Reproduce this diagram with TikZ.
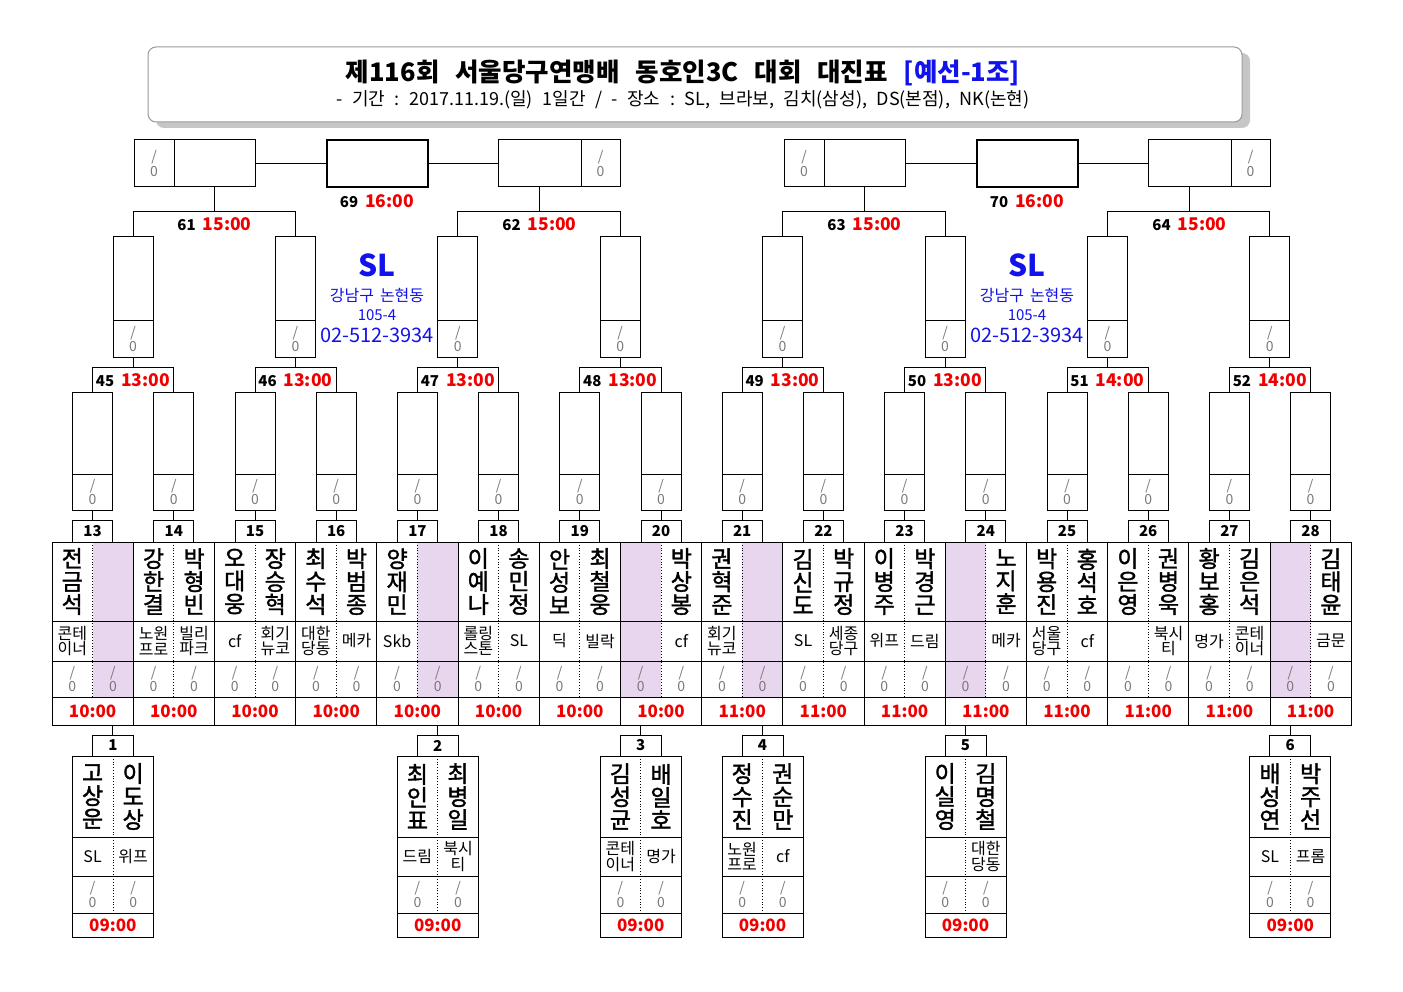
\documentclass[tikz,border=0pt]{standalone}
\usepackage{fontspec}
\setmainfont{Noto Sans CJK KR}
\newfontfamily\namefont{Noto Sans CJK KR}[FakeBold=1.5]
\usepackage{tikz}
\usetikzlibrary{calc,positioning,backgrounds}
\definecolor{emptyslot}{RGB}{232,214,238}
\definecolor{tblue}{RGB}{18,18,235}
\definecolor{sgray}{RGB}{120,120,120}
\definecolor{tred}{RGB}{240,0,0}
\tikzset{>=latex}
\newcommand{\fsize}[2]{\fontsize{#1}{#2}\selectfont}
\newcommand{\mnum}[1]{{\bfseries\fsize{15}{15}#1}}
\newcommand{\mtime}[1]{{\bfseries\fsize{17.5}{17.5}\color{tred}#1}}
\newcommand{\slashz}{/\\0}
\newcommand{\tgap}{\hspace{16pt}}
\newcommand{\sgap}{\hspace{9.5pt}}

\begin{document}
\begin{tikzpicture}[x=1pt, y=-1pt, line width=1pt,
  box/.style 2 args={draw, rectangle, inner sep=0pt, outer sep=0pt, minimum width=#1, minimum height=#2},
  score/.style={text=sgray, align=center, font=\fsize{14}{14.5}},
  numlbl/.style={font=\bfseries\fsize{15}{15}},
  pname/.style={align=center, inner sep=0pt, font=\namefont\fsize{23}{23}},
  club/.style={align=center, inner sep=0pt, font=\fsize{16}{15.5}},
  ptime/.style={text=tred, font=\bfseries\fsize{17}{17}},
  mlabel/.style={inner sep=0pt}]
\useasboundingbox (0,0) rectangle (1403,992);

\node[box={1094}{75}, draw=none, fill=gray!45, rounded corners=8pt] (tshadow) at (703,90.5) {};
\node[box={1094}{75}, draw=gray!80, fill=white, rounded corners=8pt] (tbox) at (695,84.5) {};
\node[font=\bfseries\fsize{25.5}{25.5}] (title) at (683,73)
  {제116회\tgap 서울당구연맹배\tgap 동호인3C\tgap 대회\tgap 대진표\tgap {\color{tblue}[예선-1조]}};
\node[font=\fsize{18}{18}] (period) at (683,100)
  {-\sgap 기간\sgap :\sgap 2017.11.19.(일)\sgap 1일간\sgap /\sgap -\sgap 장소\sgap :\sgap SL,\sgap 브라보,\sgap 김치(삼성),\sgap DS(본점),\sgap NK(논현)};

\foreach \s/\f in {0/69, 650/70} {
  \node[box={101}{47}, line width=2pt] (fin\f) at (377+\s,163.5) {};
  \node[box={81}{47}] (wl\f) at (214.5+\s,163.5) {};
  \node[box={40}{47}, score, left=0pt of wl\f] (wls\f) {\slashz};
  \node[box={83}{47}] (wr\f) at (539.5+\s,163.5) {};
  \node[box={39}{47}, score, right=0pt of wr\f] (wrs\f) {\slashz};
  \draw (wl\f) -- (fin\f);
  \draw (fin\f) -- (wr\f);
  \node[mlabel] (ml\f) at (377+\s,201) {\mnum{\f}\hspace{7pt}\mtime{16:00}};
  \node[font=\bfseries\fsize{30}{30}, text=tblue] (sl\f) at (377+\s,265) {SL};
  \node[font=\fsize{16}{16}, text=tblue] (addr\f) at (377+\s,296) {강남구\hspace{6pt}논현동};
  \node[font=\fsize{15}{15}, text=tblue] (lot\f) at (377+\s,315) {105-4};
  \node[font=\fsize{20}{20}, text=tblue] (tel\f) at (377+\s,335) {02-512-3934};
}

\foreach \sq in {0,...,7} {
  \node[box={40}{84}] (sf\sq) at (133+162.4*\sq,279) {};
  \node[box={40}{36}, score, below=0pt of sf\sq] (sfs\sq) {\slashz};
}

\foreach \p/\ca/\cb/\m in {wl69/sf0/sf1/61, wr69/sf2/sf3/62, wl70/sf4/sf5/63, wr70/sf6/sf7/64} {
  \draw (\ca.north) -- ++(0,-25) coordinate (j\m) -| (\cb.north);
  \draw (\p.south) -- (\p.south |- j\m);
  \node[mlabel] (ml\m) at ($(\p.south |- j\m)+(0,12.5)$) {\mnum{\m}\hspace{7pt}\mtime{15:00}};
}

\foreach \n in {13,...,28} {
  \node[box={40}{82}] (r\n) at (81.2*\n-963,433) {};
  \node[box={40}{36}, score, below=0pt of r\n] (rs\n) {\slashz};
  \node[box={40}{22}, numlbl, below=10pt of rs\n] (lb\n) {\n};
  \draw (rs\n) -- (lb\n);
}

\foreach \sq/\tm in {0/13:00,1/13:00,2/13:00,3/13:00,4/13:00,5/13:00,6/14:00,7/14:00} {
  \pgfmathtruncatemacro\ca{13+2*\sq}
  \pgfmathtruncatemacro\cb{14+2*\sq}
  \pgfmathtruncatemacro\m{45+\sq}
  \draw (r\ca.north) -- ++(0,-25) coordinate (j\m) -| (r\cb.north);
  \draw (sfs\sq.south) -- (sfs\sq.south |- j\m);
  \node[mlabel] (ml\m) at ($(sfs\sq.south |- j\m)+(0,13)$) {\mnum{\m}\hspace{7pt}\mtime{\tm}};
}

\foreach \n/\na/\nb/\ka/\kb/\p in {
  13/{전\\금\\석}/{}/{콘테\\이너}/{}/2,
  14/{강\\한\\결}/{박\\형\\빈}/{노원\\프로}/{빌리\\파크}/0,
  15/{오\\대\\웅}/{장\\승\\혁}/cf/{회기\\뉴코}/0,
  16/{최\\수\\석}/{박\\범\\종}/{대한\\당동}/메카/0,
  17/{양\\재\\민}/{}/Skb/{}/2,
  18/{이\\예\\나}/{송\\민\\정}/{롤링\\스톤}/SL/0,
  19/{안\\성\\보}/{최\\철\\웅}/딕/빌락/0,
  20/{}/{박\\상\\봉}/{}/cf/1,
  21/{권\\혁\\준}/{}/{회기\\뉴코}/{}/2,
  22/{김\\신\\도}/{박\\규\\정}/SL/{세종\\당구}/0,
  23/{이\\병\\주}/{박\\경\\근}/위프/드림/0,
  24/{}/{노\\지\\훈}/{}/메카/1,
  25/{박\\용\\진}/{홍\\석\\호}/{서울\\당구}/cf/0,
  26/{이\\은\\영}/{권\\병\\욱}/{}/{북시\\티}/0,
  27/{황\\보\\홍}/{김\\은\\석}/명가/{콘테\\이너}/0,
  28/{}/{김\\태\\윤}/{}/금문/1} {
  \node[box={81.2}{79}, below=0pt of lb\n] (nr\n) {};
  \node[box={81.2}{40}, below=0pt of nr\n] (cr\n) {};
  \node[box={81.2}{36}, below=0pt of cr\n] (sr\n) {};
  \node[box={81.2}{28}, ptime, below=0pt of sr\n] (tr\n) {\ifnum\n<21 10:00\else 11:00\fi};
  \begin{scope}[on background layer]
    \ifnum\p=1 \fill[emptyslot] (nr\n.north west) rectangle (sr\n.south);\fi
    \ifnum\p=2 \fill[emptyslot] (nr\n.north) rectangle (sr\n.south east);\fi
  \end{scope}
  \draw[dotted, line width=0.8pt] (nr\n.north) -- (sr\n.south);
  \node[pname] (nl\n) at ($(nr\n.center)+(-20.3,0)$) {\na};
  \node[pname] (nrr\n) at ($(nr\n.center)+(20.3,0)$) {\nb};
  \node[club] (kl\n) at ($(cr\n.center)+(-20.3,0)$) {\ka};
  \node[club] (kr\n) at ($(cr\n.center)+(20.3,0)$) {\kb};
  \node[score] (pl\n) at ($(sr\n.center)+(-20.3,0)$) {\slashz};
  \node[score] (pr\n) at ($(sr\n.center)+(20.3,0)$) {\slashz};
}

\foreach \m/\n/\s/\na/\nb/\ka/\kb in {
  1/13/1/{고\\상\\운}/{이\\도\\상}/SL/위프,
  2/17/1/{최\\인\\표}/{최\\병\\일}/드림/{북시\\티},
  3/20/-1/{김\\성\\균}/{배\\일\\호}/{콘테\\이너}/명가,
  4/21/1/{정\\수\\진}/{권\\순\\만}/{노원\\프로}/cf,
  5/24/-1/{이\\실\\영}/{김\\명\\철}/{}/{대한\\당동},
  6/28/-1/{배\\성\\연}/{박\\주\\선}/SL/프롬} {
  \coordinate (bt\m) at ($(tr\n.south)+(\s*20.3,0)$);
  \node[box={41}{21}, numlbl, below=10pt of bt\m] (bl\m) {\m};
  \draw (bt\m) -- (bl\m);
  \node[box={81}{81}, below=0pt of bl\m] (bn\m) {};
  \node[box={81}{39}, below=0pt of bn\m] (bc\m) {};
  \node[box={81}{37}, below=0pt of bc\m] (bs\m) {};
  \node[box={81}{24}, ptime, below=0pt of bs\m] (bti\m) {09:00};
  \draw[dotted, line width=0.8pt] (bn\m.north) -- (bs\m.south);
  \node[pname] (bnl\m) at ($(bn\m.center)+(-20.3,0)$) {\na};
  \node[pname] (bnr\m) at ($(bn\m.center)+(20.3,0)$) {\nb};
  \node[club] (bkl\m) at ($(bc\m.center)+(-20.3,0)$) {\ka};
  \node[club] (bkr\m) at ($(bc\m.center)+(20.3,0)$) {\kb};
  \node[score] (bpl\m) at ($(bs\m.center)+(-20.3,0)$) {\slashz};
  \node[score] (bpr\m) at ($(bs\m.center)+(20.3,0)$) {\slashz};
}
\end{tikzpicture}
\end{document}
